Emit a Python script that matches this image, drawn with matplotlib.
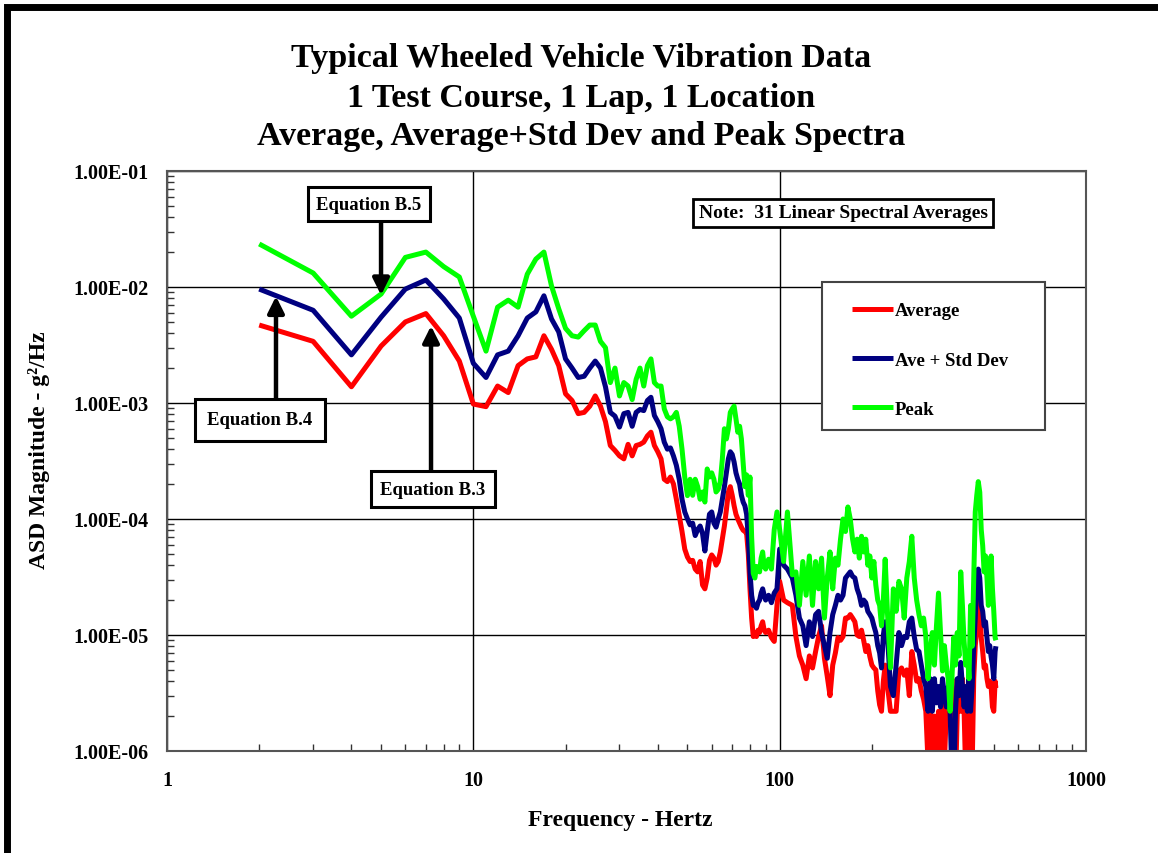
import matplotlib
matplotlib.use("Agg")
import matplotlib.pyplot as plt
import matplotlib.ticker as ticker
from matplotlib.patches import Rectangle

plt.rcParams["font.family"] = ["Liberation Serif", "DejaVu Serif"]
plt.rcParams["font.weight"] = "bold"

# frequency lines (Hz): 1 Hz steps to 90 Hz, coarser above
freq = list(range(2, 91)) + [
    92, 94, 96, 98, 100, 103, 106,
    110, 113, 116, 119, 122, 125, 128, 131, 134, 137, 140, 143, 146, 149,
    152, 155, 158, 161, 164, 167, 170, 173, 176, 179, 182, 185, 188, 191,
    194, 197, 200, 203, 206, 209, 212, 215, 218, 221,
    225, 230, 235, 240, 245, 250, 255, 260, 265, 270, 275, 280, 285, 290,
    295, 300, 305, 310, 315, 320, 325, 330, 335, 340, 345, 350, 355, 360,
    365, 370, 375, 380, 385, 390, 395, 400, 405, 410, 415, 420, 425, 430,
    435, 440, 445, 450, 455, 460, 465, 470, 475, 480, 485, 490, 495, 500,
    505, 508,
]

# Average
avg = [
    0.0047, 0.0034, 0.00138, 0.0031, 0.0050, 0.0059, 0.0038, 0.0023, 0.00098, 0.00093,
    0.0014, 0.00123, 0.0021, 0.0024, 0.0025, 0.0038, 0.0029, 0.0021, 0.0012, 0.00105,
    0.00081, 0.00083, 0.00094, 0.00115, 0.00094, 0.00069, 0.00043, 0.00039, 0.00035, 0.00033,
    0.00044, 0.00035, 0.00043, 0.00044, 0.00046, 0.00052, 0.00056, 0.00043, 0.00038, 0.00033,
    0.00022, 0.00021, 0.00023, 0.000201, 0.000148, 0.000107, 7.8e-5, 5.5e-5, 4.7e-5, 4.3e-5,
    4.4e-5, 3.7e-5, 3.5e-5, 4.3e-5, 2.7e-5, 2.5e-5, 3.1e-5, 4.4e-5, 4.9e-5, 4.6e-5,
    4.0e-5, 4.3e-5, 5.2e-5, 6.7e-5, 8.7e-5, 1.2e-4, 1.7e-4, 1.9e-4, 1.6e-4, 1.3e-4,
    1.1e-4, 1.0e-4, 9.2e-5, 8.5e-5, 8.0e-5, 7.8e-5, 7.5e-5, 5.0e-5, 2.5e-5, 1.4e-5,
    9.7e-6, 1.05e-5, 9.7e-6, 1.1e-5, 1.05e-5, 1.2e-5, 1.3e-5, 1.1e-5, 1.05e-5,
    # 92 .. 106
    1.1e-5, 9.5e-6, 8.8e-6, 1.8e-5, 2.9e-5, 2.0e-5, 1.9e-5,
    # 110 .. 221
    1.8e-5, 9.7e-6, 6.6e-6, 5.5e-6, 4.2e-6, 6.6e-6, 5.2e-6, 7.2e-6, 9.7e-6, 1.2e-5,
    6.3e-6, 4.4e-6, 3.0e-6, 5.5e-6, 7.0e-6, 9.5e-6, 9.0e-6, 9.7e-6, 1.4e-5, 1.4e-5,
    1.5e-5, 1.4e-5, 1.3e-5, 1.0e-5, 9.7e-6, 1.1e-5, 9.0e-6, 7.2e-6, 8.1e-6, 6.5e-6,
    5.5e-6, 5.2e-6, 5.0e-6, 3.3e-6, 2.5e-6, 2.2e-6, 4.0e-6, 5.5e-6,
    # 225 .. 508
    3.6e-6, 2.2e-6, 2.2e-6, 2.2e-6, 4.9e-6, 5.2e-6, 4.5e-6, 5.0e-6, 3.0e-6, 7.2e-6,
    5.5e-6, 4.0e-6, 4.2e-6, 3.3e-6, 2.8e-6, 2.2e-6, 8.0e-7, 2.2e-6, 7.0e-7, 2.0e-6,
    6.0e-7, 2.2e-6, 7.0e-7, 2.5e-6, 8.0e-7, 2.2e-6, 3.0e-6, 2.3e-6, 4.2e-6, 2.2e-6,
    5.0e-7, 2.2e-6, 3.3e-6, 2.2e-6, 4.2e-6, 2.2e-6, 6.0e-7, 2.2e-6, 6.0e-7, 2.2e-6,
    7.0e-7, 4.2e-6, 8.1e-6, 1.1e-5, 2.2e-5, 2.0e-5, 9.5e-6, 7.2e-6, 5.2e-6, 5.5e-6,
    4.2e-6, 3.6e-6, 4.0e-6, 3.6e-6, 2.4e-6, 2.2e-6, 4.0e-6, 3.5e-6,
]

# Average + standard deviation
ave_std = [
    0.0096, 0.0063, 0.0026, 0.0055, 0.0096, 0.0115, 0.0079, 0.0054, 0.0022, 0.00166,
    0.0026, 0.0028, 0.0038, 0.0054, 0.0061, 0.0084, 0.0053, 0.0041, 0.0024, 0.0020,
    0.00166, 0.0017, 0.0020, 0.0023, 0.0020, 0.00138, 0.00083, 0.00077, 0.00062, 0.00081,
    0.00083, 0.00063, 0.00083, 0.00088, 0.00086, 0.00105, 0.00112, 0.00078, 0.00069, 0.00060,
    0.00046, 0.00040, 0.00041, 0.00035, 0.00029, 0.00022, 0.000148, 0.000115, 0.00010, 8.9e-5,
    9.2e-5, 7.2e-5, 8.1e-5, 8.7e-5, 7.5e-5, 5.3e-5, 7.8e-5, 1.1e-4, 1.15e-4, 9.2e-5,
    8.5e-5, 1.0e-4, 1.15e-4, 1.48e-4, 1.9e-4, 2.5e-4, 3.3e-4, 3.8e-4, 3.6e-4, 3.1e-4,
    2.5e-4, 2.2e-4, 2.0e-4, 1.6e-4, 1.4e-4, 1.3e-4, 1.1e-4, 7.0e-5, 3.5e-5, 2.2e-5,
    1.8e-5, 1.8e-5, 1.7e-5, 1.9e-5, 2.0e-5, 2.3e-5, 2.5e-5, 2.2e-5, 2.0e-5,
    # 92 .. 106
    2.2e-5, 1.9e-5, 2.3e-5, 2.5e-5, 5.5e-5, 4.0e-5, 3.7e-5,
    # 110 .. 221
    3.1e-5, 2.2e-5, 1.4e-5, 1.2e-5, 8.1e-6, 1.3e-5, 9.7e-6, 1.5e-5, 1.6e-5, 1.05e-5,
    8.1e-6, 6.3e-6, 1.05e-5, 1.5e-5, 1.8e-5, 2.2e-5, 2.0e-5, 2.2e-5, 3.1e-5, 3.3e-5,
    3.5e-5, 3.2e-5, 3.1e-5, 2.5e-5, 2.2e-5, 1.8e-5, 2.0e-5, 1.9e-5, 1.6e-5, 1.5e-5,
    1.4e-5, 1.2e-5, 1.05e-5, 8.1e-6, 7.0e-6, 5.2e-6, 1.0e-5, 1.3e-5,
    # 225 .. 508
    9.5e-6, 3.6e-6, 3.0e-6, 5.5e-6, 1.05e-5, 8.1e-6, 9.7e-6, 9.5e-6, 1.3e-5, 1.4e-5,
    9.7e-6, 7.5e-6, 7.2e-6, 5.5e-6, 4.2e-6, 3.6e-6, 2.2e-6, 4.2e-6, 2.2e-6, 4.2e-6,
    2.6e-6, 3.6e-6, 2.4e-6, 4.2e-6, 3.0e-6, 2.4e-6, 3.6e-6, 2.2e-6, 6.0e-7, 5.0e-7,
    2.2e-6, 4.2e-6, 3.0e-6, 5.8e-6, 3.6e-6, 2.4e-6, 3.6e-6, 2.2e-6, 4.2e-6, 2.2e-6,
    3.6e-6, 8.1e-6, 1.4e-5, 3.1e-5, 3.7e-5, 3.1e-5, 1.8e-5, 1.6e-5, 1.2e-5, 1.3e-5,
    9.5e-6, 7.2e-6, 8.1e-6, 6.5e-6, 5.5e-6, 4.2e-6, 7.2e-6, 8.0e-6,
]

# Peak
peak = [
    0.0235, 0.0132, 0.0056, 0.0087, 0.018, 0.020, 0.015, 0.0122, 0.0056, 0.0028,
    0.0067, 0.0077, 0.0067, 0.0129, 0.0174, 0.020, 0.0102, 0.0065, 0.0044, 0.0038,
    0.0037, 0.0042, 0.0047, 0.0047, 0.0034, 0.0030, 0.0015, 0.0020, 0.00115, 0.0015,
    0.0014, 0.00107, 0.0016, 0.0020, 0.0014, 0.0021, 0.0024, 0.0015, 0.0014, 0.0014,
    0.00089, 0.00076, 0.00073, 0.00076, 0.00083, 0.00063, 0.00040, 0.00023, 0.000159, 0.00022,
    0.00016, 0.00022, 0.00019, 0.000148, 0.000171, 0.000140, 0.00027, 0.00023, 0.00025, 0.00022,
    0.000171, 0.00018, 0.00021, 0.00033, 0.00060, 0.00049, 0.00060, 0.00083, 0.00089, 0.00094,
    0.00073, 0.00056, 0.00063, 0.00049, 0.00030, 0.00019, 0.00024, 0.00016, 0.00023, 7.0e-5,
    3.4e-5, 3.1e-5, 3.9e-5, 3.7e-5, 3.5e-5, 4.6e-5, 5.2e-5, 3.9e-5, 3.7e-5,
    # 92 .. 106
    4.5e-5, 3.7e-5, 8.1e-5, 1.15e-4, 8.1e-5, 4.3e-5, 1.15e-4,
    # 110 .. 221
    3.3e-5, 3.5e-5, 1.8e-5, 4.3e-5, 2.2e-5, 4.8e-5, 1.8e-5, 4.3e-5, 2.5e-5, 4.6e-5,
    1.4e-5, 3.1e-5, 5.2e-5, 2.5e-5, 4.6e-5, 4.0e-5, 6.7e-5, 1.0e-4, 7.8e-5, 1.27e-4,
    1.0e-4, 6.7e-5, 5.2e-5, 6.7e-5, 4.6e-5, 7.1e-5, 5.2e-5, 6.7e-5, 4.0e-5, 4.8e-5,
    3.1e-5, 4.3e-5, 2.7e-5, 2.0e-5, 1.8e-5, 1.2e-5, 2.0e-5, 4.5e-5,
    # 225 .. 508
    1.5e-5, 5.2e-6, 2.5e-5, 1.6e-5, 2.9e-5, 2.5e-5, 1.4e-5, 3.1e-5, 4.3e-5, 7.1e-5,
    3.1e-5, 2.0e-5, 1.5e-5, 1.2e-5, 1.4e-5, 9.7e-6, 4.2e-6, 7.2e-6, 1.05e-5, 5.5e-6,
    1.2e-5, 2.3e-5, 1.05e-5, 4.9e-6, 8.1e-6, 5.5e-6, 4.2e-6, 2.2e-6, 4.2e-6, 9.5e-6,
    5.5e-6, 1.05e-5, 6.6e-6, 3.5e-5, 1.8e-5, 8.8e-6, 5.5e-6, 7.2e-6, 4.2e-6, 1.8e-5,
    8.0e-6, 3.1e-5, 1.15e-4, 1.6e-4, 2.1e-4, 1.7e-4, 8.1e-5, 5.9e-5, 3.5e-5, 4.8e-5,
    3.1e-5, 1.8e-5, 2.5e-5, 4.8e-5, 2.5e-5, 1.6e-5, 9.5e-6, 9.0e-6,
]

series = [
    ("Average", avg, "#FF0000"),
    ("Ave + Std Dev", ave_std, "#000080"),
    ("Peak", peak, "#00FF00"),
]

x_ticks = [1, 10, 100, 1000]
y_ticks = [1e-6, 1e-5, 1e-4, 1e-3, 1e-2, 1e-1]

W, H = 1158, 854
fig = plt.figure(figsize=(W / 100, H / 100), dpi=100)
ax = fig.add_axes([167 / W, 1 - 752 / H, (1086 - 167) / W, (752 - 172) / H])

for name, vals, col in series:
    ax.plot(freq, vals, color=col, lw=3.6, label=name,
            solid_joinstyle="round", solid_capstyle="butt")

ax.set_xscale("log")
ax.set_yscale("log")
ax.set_xlim(1, 1000)
ax.set_ylim(1e-6, 1e-1)

ax.xaxis.set_major_locator(ticker.FixedLocator(x_ticks))
ax.xaxis.set_major_formatter(ticker.FixedFormatter([str(t) for t in x_ticks]))
ax.yaxis.set_major_locator(ticker.FixedLocator(y_ticks))
ax.yaxis.set_major_formatter(ticker.FixedFormatter([f"{t:.2E}" for t in y_ticks]))
ax.xaxis.set_minor_locator(ticker.LogLocator(base=10, subs=range(2, 10)))
ax.yaxis.set_minor_locator(ticker.LogLocator(base=10, subs=range(2, 10)))
ax.xaxis.set_minor_formatter(ticker.NullFormatter())
ax.yaxis.set_minor_formatter(ticker.NullFormatter())

ax.tick_params(which="major", length=0, labelsize=14.5)
ax.tick_params(axis="y", which="major", pad=13)
ax.tick_params(axis="x", which="major", pad=14)
ax.tick_params(which="minor", direction="in", length=5, width=1, color="#333333")
ax.tick_params(which="minor", top=False, right=False)

ax.grid(True, which="major", color="black", lw=1)
for sp in ax.spines.values():
    sp.set_color("#555555")
    sp.set_linewidth(1.5)

ax.set_xlabel("Frequency - Hertz", fontsize=17, fontweight="bold")
ax.xaxis.set_label_coords(0.493, -0.1)
ax.set_ylabel("ASD Magnitude - g\u00b2/Hz", fontsize=17, fontweight="bold")
ax.yaxis.set_label_coords(-0.127, 0.52)

fig.text(0.502, 1 - 58 / H, "Typical Wheeled Vehicle Vibration Data",
         ha="center", va="center", fontsize=24.5, fontweight="bold")
fig.text(0.502, 1 - 99 / H, "1 Test Course, 1 Lap, 1 Location",
         ha="center", va="center", fontsize=24.5, fontweight="bold")
fig.text(0.502, 1 - 137 / H, "Average, Average+Std Dev and Peak Spectra",
         ha="center", va="center", fontsize=24.5, fontweight="bold")

# legend box
ax.add_patch(Rectangle((0.7127, 0.5534), 0.2427, 0.2552, transform=ax.transAxes,
                       facecolor="white", edgecolor="#444444", lw=1.5, zorder=4))
ax.legend(loc="upper left", bbox_to_anchor=(0.745, 0.774), frameon=False,
          borderpad=0, borderaxespad=0, handlelength=2.2, handletextpad=0.1,
          labelspacing=1.72, prop={"size": 13.5, "weight": "bold"}).set_zorder(5)

box = dict(boxstyle="square,pad=0.3", facecolor="white", edgecolor="black", lw=2)
ax.text(0.7356, 0.9276, "Note:  31 Linear Spectral Averages", transform=ax.transAxes,
        ha="center", va="center", fontsize=14, fontweight="bold", bbox=box, zorder=6)

arrow = dict(arrowstyle="-|>,head_length=0.7,head_width=0.35", lw=3.2,
             color="black", mutation_scale=14, shrinkA=0, shrinkB=0)
# (label, box centre, arrow start, arrow tip, box padding) in axes fraction
notes = [
    ("Equation B.5", (0.2198, 0.9431), (0.2329, 0.9155), (0.2329, 0.786), 0.45),
    ("Equation B.4", (0.1012, 0.5707), (0.1186, 0.603), (0.1186, 0.784), 0.65),
    ("Equation B.3", (0.2894, 0.4517), (0.2873, 0.483), (0.2873, 0.733), 0.5),
]
for label, c, start, tip, pad in notes:
    ax.annotate("", xy=tip, xytext=start, xycoords="axes fraction",
                textcoords="axes fraction", arrowprops=arrow, zorder=6)
    ax.text(c[0], c[1], label, transform=ax.transAxes, ha="center", va="center",
            fontsize=13.5, fontweight="bold", zorder=7,
            bbox=dict(boxstyle=f"square,pad={pad}", facecolor="white",
                      edgecolor="black", lw=2.2))

# outer frame, only its left and top edges fall inside the picture
fig.patches.append(Rectangle((6.5 / W, -0.2), 1.5, 1.2 - 8 / H, transform=fig.transFigure,
                             fill=False, edgecolor="black", lw=5))

fig.savefig("out.png", dpi=100, facecolor="white")
